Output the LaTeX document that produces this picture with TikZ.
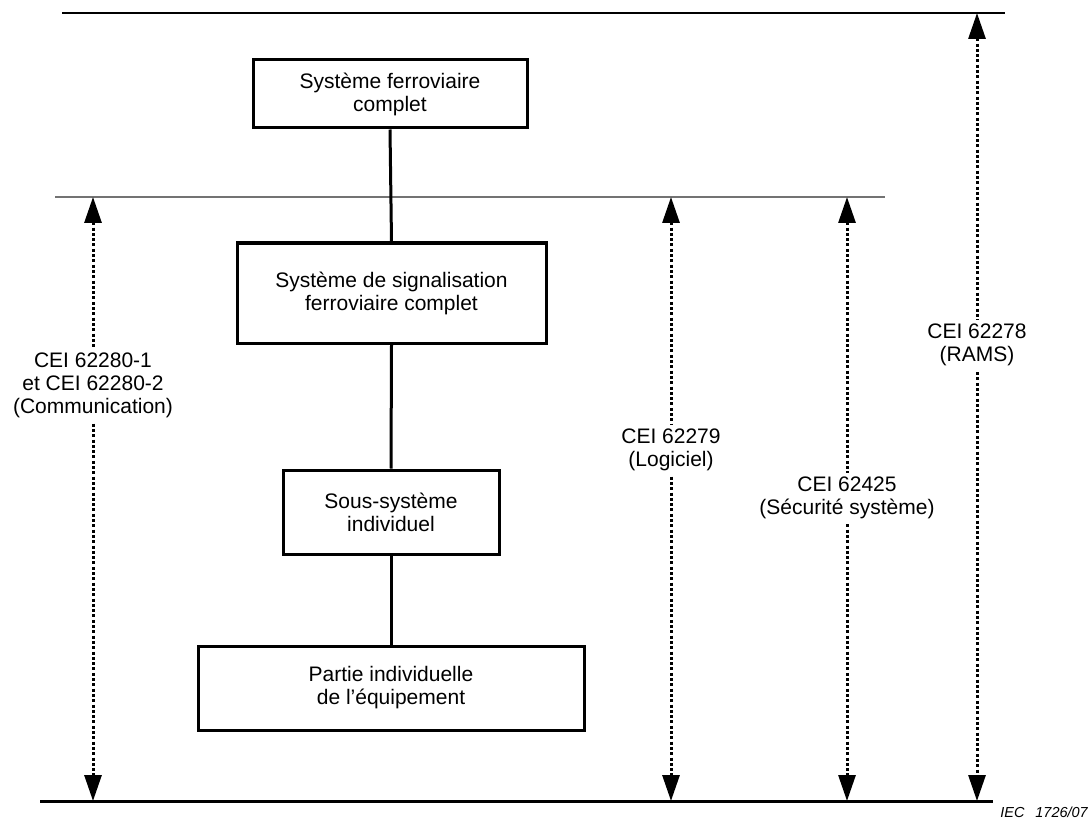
\documentclass[tikz,border=0pt]{standalone}
\usepackage{fontspec}
\setmainfont{Liberation Sans}
\usetikzlibrary{arrows.meta}
\begin{document}
\begin{tikzpicture}[x=1pt,y=-1pt,
  box/.style={draw,line width=3pt,align=center,font=\fontsize{21}{23}\selectfont,inner sep=0pt},
  lab/.style={fill=white,align=center,font=\fontsize{21}{23}\selectfont,inner sep=4pt},
  dotarrow/.style={line width=3pt,dash pattern=on 3pt off 2.3pt,{Triangle[length=26pt,width=17pt]}-{Triangle[length=26pt,width=17pt]}},
  conn/.style={line width=3pt},
  levelthin/.style={line width=1.2pt,draw=black!55},
  levelthick/.style={line width=2.4pt}]
\useasboundingbox (0,0) rectangle (1091,834);
% level lines
\coordinate (t1) at (62,13);   \coordinate (t2) at (1005,13);
\coordinate (m1) at (55,197);  \coordinate (m2) at (885,197);
\coordinate (b1) at (40,801);  \coordinate (b2) at (993,801);
\draw[levelthick] (t1) -- (t2);
\draw[levelthin] (m1) -- (m2);
\draw[levelthick,line width=3pt] (b1) -- (b2);
% boxes
\node[box,minimum width=274pt,minimum height=68pt] (s1) at (390,94) {Système ferroviaire\\complet};
\node[box,minimum width=309pt,minimum height=100pt] (s2) at (391.5,293) {Système de signalisation\\ferroviaire complet};
\node[box,minimum width=216pt,minimum height=84pt] (s3) at (391,512) {Sous-système\\individuel};
\node[box,minimum width=386pt,minimum height=84pt] (s4) at (391,688) {Partie individuelle\\de l’équipement};
\draw[conn] (s1.south) -- (s2.north);
\draw[conn] (s2.south) -- (s3.north);
\draw[conn] (s3.south) -- (s4.north);
% dotted double arrows
\coordinate (a1t) at (93,197);  \coordinate (a1b) at (93,801);
\coordinate (a2t) at (671,197); \coordinate (a2b) at (671,801);
\coordinate (a3t) at (847,197); \coordinate (a3b) at (847,801);
\coordinate (a4t) at (977,13);  \coordinate (a4b) at (977,801);
\draw[dotarrow] (a1t) -- (a1b);
\draw[dotarrow] (a2t) -- (a2b);
\draw[dotarrow] (a3t) -- (a3b);
\draw[dotarrow] (a4t) -- (a4b);
\node[lab] (l1) at (93,385) {CEI 62280-1\\et CEI 62280-2\\(Communication)};
\node[lab] (l2) at (671,450) {CEI 62279\\(Logiciel)};
\node[lab] (l3) at (847,498) {CEI 62425\\(Sécurité système)};
\node[lab] (l4) at (977,345) {CEI 62278\\(RAMS)};
\node[anchor=base east,font=\fontsize{14.5}{16}\selectfont\itshape,inner sep=0pt] (ref) at (1088,817) {IEC\hspace{0.75em}1726/07};
\end{tikzpicture}
\end{document}
